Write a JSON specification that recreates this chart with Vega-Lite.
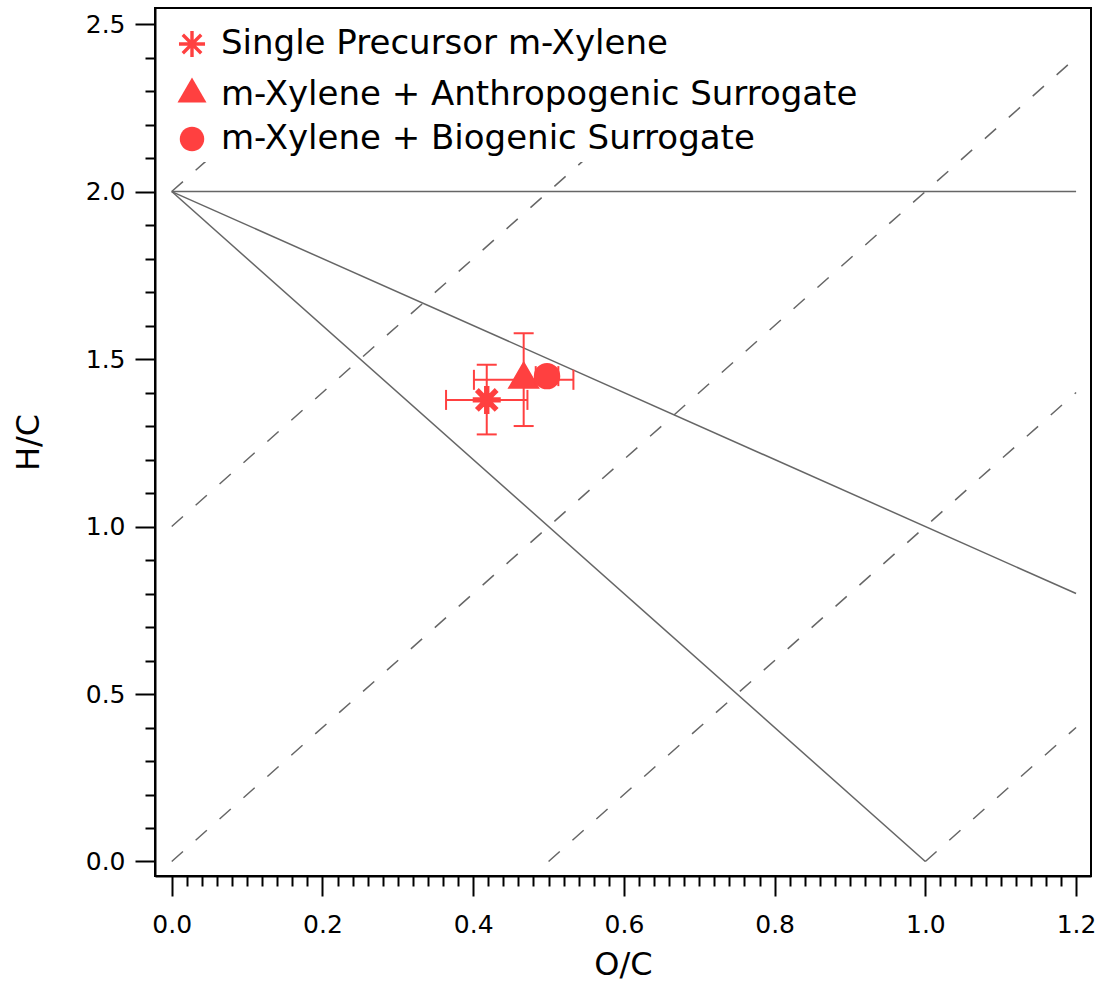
{
  "$schema": "https://vega.github.io/schema/vega-lite/v6.json",
  "width": 936,
  "height": 868,
  "autosize": {"type": "none"},
  "padding": {"left": 155, "top": 8, "right": 11, "bottom": 111},
  "background": "white",
  "config": {
    "font": "DejaVu Sans",
    "view": {"stroke": "black", "strokeWidth": 2},
    "axis": {
      "grid": false,
      "domainColor": "black",
      "domainWidth": 2,
      "tickColor": "black",
      "tickWidth": 2,
      "labelFont": "DejaVu Sans",
      "labelFontSize": 25,
      "labelColor": "black",
      "labelOverlap": false,
      "labelFlush": false,
      "titleFont": "DejaVu Sans",
      "titleFontSize": 32,
      "titleFontWeight": "normal",
      "titleColor": "black"
    }
  },
  "datasets": {
    "points": [
      {"series": "Single Precursor m-Xylene", "oc": 0.418, "hc": 1.378, "oc_lo": 0.364, "oc_hi": 0.472, "hc_lo": 1.275, "hc_hi": 1.483},
      {"series": "m-Xylene + Anthropogenic Surrogate", "oc": 0.467, "hc": 1.438, "oc_lo": 0.401, "oc_hi": 0.533, "hc_lo": 1.300, "hc_hi": 1.577},
      {"series": "m-Xylene + Biogenic Surrogate", "oc": 0.498, "hc": 1.449, "oc_lo": 0.483, "oc_hi": 0.513, "hc_lo": 1.429, "hc_hi": 1.469}
    ],
    "solid": [
      {"seg": "H/C = 2", "oc": 0, "hc": 2},
      {"seg": "H/C = 2", "oc": 1.2, "hc": 2},
      {"seg": "slope -1", "oc": 0, "hc": 2},
      {"seg": "slope -1", "oc": 1.2, "hc": 0.8},
      {"seg": "slope -2", "oc": 0, "hc": 2},
      {"seg": "slope -2", "oc": 1.0, "hc": 0}
    ],
    "dashed": [
      {"seg": "a", "oc": 0, "hc": 2},
      {"seg": "a", "oc": 0.25, "hc": 2.5},
      {"seg": "b", "oc": 0, "hc": 1},
      {"seg": "b", "oc": 0.75, "hc": 2.5},
      {"seg": "c", "oc": 0, "hc": 0},
      {"seg": "c", "oc": 1.2, "hc": 2.4},
      {"seg": "d", "oc": 0.5, "hc": 0},
      {"seg": "d", "oc": 1.2, "hc": 1.4},
      {"seg": "e", "oc": 1.0, "hc": 0},
      {"seg": "e", "oc": 1.2, "hc": 0.4}
    ]
  },
  "layer": [
    {
      "data": {"name": "solid"},
      "mark": {"type": "line", "color": "#666666", "strokeWidth": 1.5},
      "encoding": {
        "x": {
          "field": "oc", "type": "quantitative",
          "scale": {"domain": [-0.0222, 1.2198], "nice": false, "zero": false},
          "axis": {
            "title": "O/C",
            "tickCount": 200,
            "values": [0,0.02,0.04,0.06,0.08,0.1,0.12,0.14,0.16,0.18,0.2,0.22,0.24,0.26,0.28,0.3,0.32,0.34,0.36,0.38,0.4,0.42,0.44,0.46,0.48,0.5,0.52,0.54,0.56,0.58,0.6,0.62,0.64,0.66,0.68,0.7,0.72,0.74,0.76,0.78,0.8,0.82,0.84,0.86,0.88,0.9,0.92,0.94,0.96,0.98,1.0,1.02,1.04,1.06,1.08,1.1,1.12,1.14,1.16,1.18,1.2],
            "labelExpr": "abs(datum.value*5 - round(datum.value*5)) < 1e-6 ? format(datum.value, '.1f') : ''",
            "tickSize": {"condition": {"test": "abs(datum.value*5 - round(datum.value*5)) < 1e-6", "value": 20}, "value": 10},
            "labelPadding": 16,
            "titlePadding": 12
          }
        },
        "y": {
          "field": "hc", "type": "quantitative",
          "scale": {"domain": [-0.0433, 2.548], "nice": false, "zero": false},
          "axis": {
            "title": "H/C",
            "tickCount": 200,
            "values": [0,0.1,0.2,0.3,0.4,0.5,0.6,0.7,0.8,0.9,1.0,1.1,1.2,1.3,1.4,1.5,1.6,1.7,1.8,1.9,2.0,2.1,2.2,2.3,2.4,2.5],
            "labelExpr": "abs(datum.value*2 - round(datum.value*2)) < 1e-6 ? format(datum.value, '.1f') : ''",
            "tickSize": {"condition": {"test": "abs(datum.value*2 - round(datum.value*2)) < 1e-6", "value": 20}, "value": 10},
            "labelPadding": 10,
            "titlePadding": 40
          }
        },
        "detail": {"field": "seg"}
      }
    },
    {
      "data": {"name": "dashed"},
      "mark": {"type": "line", "color": "#666666", "strokeWidth": 1.5, "strokeDash": [15, 17]},
      "encoding": {
        "x": {"field": "oc", "type": "quantitative"},
        "y": {"field": "hc", "type": "quantitative"},
        "detail": {"field": "seg"}
      }
    },
    {
      "data": {"name": "points"},
      "mark": {"type": "rule", "color": "#FF4040", "strokeWidth": 2},
      "encoding": {
        "x": {"field": "oc_lo", "type": "quantitative"},
        "x2": {"field": "oc_hi"},
        "y": {"field": "hc", "type": "quantitative"}
      }
    },
    {
      "data": {"name": "points"},
      "mark": {"type": "rule", "color": "#FF4040", "strokeWidth": 2},
      "encoding": {
        "x": {"field": "oc", "type": "quantitative"},
        "y": {"field": "hc_lo", "type": "quantitative"},
        "y2": {"field": "hc_hi"}
      }
    },
    {
      "data": {"name": "points"},
      "mark": {"type": "tick", "orient": "vertical", "color": "#FF4040", "size": 20, "thickness": 2, "opacity": 1},
      "encoding": {
        "x": {"field": "oc_lo", "type": "quantitative"},
        "y": {"field": "hc", "type": "quantitative"}
      }
    },
    {
      "data": {"name": "points"},
      "mark": {"type": "tick", "orient": "vertical", "color": "#FF4040", "size": 20, "thickness": 2, "opacity": 1},
      "encoding": {
        "x": {"field": "oc_hi", "type": "quantitative"},
        "y": {"field": "hc", "type": "quantitative"}
      }
    },
    {
      "data": {"name": "points"},
      "mark": {"type": "tick", "orient": "horizontal", "color": "#FF4040", "size": 20, "thickness": 2, "opacity": 1},
      "encoding": {
        "x": {"field": "oc", "type": "quantitative"},
        "y": {"field": "hc_lo", "type": "quantitative"}
      }
    },
    {
      "data": {"name": "points"},
      "mark": {"type": "tick", "orient": "horizontal", "color": "#FF4040", "size": 20, "thickness": 2, "opacity": 1},
      "encoding": {
        "x": {"field": "oc", "type": "quantitative"},
        "y": {"field": "hc_hi", "type": "quantitative"}
      }
    },
    {
      "data": {"name": "points"},
      "mark": {"type": "point", "filled": true, "color": "#FF4040", "stroke": "#FF4040", "strokeWidth": 2, "size": 961, "opacity": 1},
      "encoding": {
        "x": {"field": "oc", "type": "quantitative"},
        "y": {"field": "hc", "type": "quantitative"},
        "shape": {
          "field": "series", "type": "nominal",
          "scale": {
            "domain": ["Single Precursor m-Xylene", "m-Xylene + Anthropogenic Surrogate", "m-Xylene + Biogenic Surrogate"],
            "range": [
              "M-0.11,-0.84L0.11,-0.84L0.11,0.84L-0.11,0.84ZM-0.84,-0.11L0.84,-0.11L0.84,0.11L-0.84,0.11ZM-0.516,-0.672L0.672,0.516L0.516,0.672L-0.672,-0.516ZM-0.516,0.672L-0.672,0.516L0.516,-0.672L0.672,-0.516Z",
              "M0,-1.1L0.935,0.52L-0.935,0.52Z",
              "M-0.79,0A0.79,0.79,0,1,0,0.79,0A0.79,0.79,0,1,0,-0.79,0Z"
            ]
          },
          "legend": {
            "title": null,
            "orient": "none",
            "legendX": 14,
            "legendY": 13,
            "padding": 6,
            "fillColor": "white",
            "labelFont": "DejaVu Sans",
            "labelFontSize": 34,
            "labelColor": "black",
            "labelLimit": 0,
            "labelOffset": 12,
            "symbolSize": 961,
            "rowPadding": 10.5,
            "symbolFillColor": "#FF4040",
            "symbolStrokeColor": "#FF4040",
            "symbolStrokeWidth": 2,
            "symbolOpacity": 1
          }
        }
      }
    }
  ]
}
